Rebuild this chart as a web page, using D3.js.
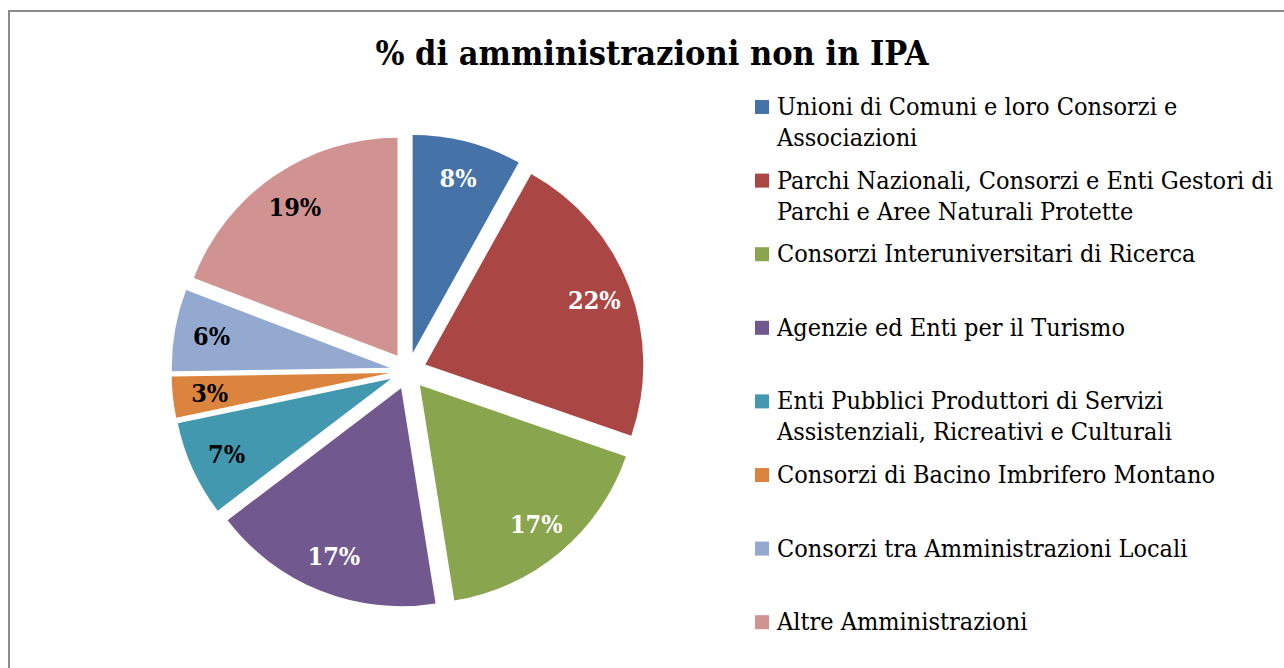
<!DOCTYPE html>
<html>
<head>
<meta charset="utf-8">
<script src="https://cdn.jsdelivr.net/npm/d3@7"></script>
<style>
  html, body { margin: 0; padding: 0; background: #fff; }
  svg { display: block; }
</style>
</head>
<body>
<svg id="chart" width="1284" height="668"></svg>
<script>
// Share of administrations not listed in IPA, by type
const categories = [
  "Unioni di Comuni e loro Consorzi e Associazioni",
  "Parchi Nazionali, Consorzi e Enti Gestori di Parchi e Aree Naturali Protette",
  "Consorzi Interuniversitari di Ricerca",
  "Agenzie ed Enti per il Turismo",
  "Enti Pubblici Produttori di Servizi Assistenziali, Ricreativi e Culturali",
  "Consorzi di Bacino Imbrifero Montano",
  "Consorzi tra Amministrazioni Locali",
  "Altre Amministrazioni"
];
const percentages = [8, 22, 17, 17, 7, 3, 6, 19];
const colors = ["#4572A7", "#AA4643", "#89A54E", "#71588F", "#4198AF", "#DB843D", "#93A9CF", "#D19392"];
const labelColors = ["#fff", "#fff", "#fff", "#fff", "#000", "#000", "#000", "#000"];
const title = "% di amministrazioni non in IPA";

const FONT = "'DejaVu Serif Condensed', 'Liberation Serif', serif";

const svg = d3.select("#chart");

// frame of the chart area
svg.append("rect")
  .attr("x", 9).attr("y", 11)
  .attr("width", 1400).attr("height", 800)
  .attr("fill", "#fff")
  .attr("stroke", "#8a8a8a").attr("stroke-width", 2);

svg.append("text")
  .attr("x", 652).attr("y", 65)
  .attr("text-anchor", "middle")
  .attr("font-family", FONT)
  .attr("font-weight", "bold")
  .attr("font-size", 34)
  .attr("fill", "#000")
  .text(title);

// exploded pie
const cx = 408, cy = 371, R = 218, explode = 18.5, labelR = 181;
const pie = d3.pie().sort(null).value(d => d);
const arcs = pie(percentages);
const arc = d3.arc().innerRadius(0).outerRadius(R);

const g = svg.append("g").attr("transform", `translate(${cx},${cy})`);

const slice = g.selectAll("g.slice")
  .data(arcs)
  .join("g")
  .attr("class", "slice")
  .attr("transform", d => {
    const a = (d.startAngle + d.endAngle) / 2;
    return `translate(${explode * Math.sin(a)},${-explode * Math.cos(a)})`;
  });

slice.append("path")
  .attr("d", arc)
  .attr("fill", (d, i) => colors[i]);

const labelArc = d3.arc().innerRadius(labelR).outerRadius(labelR);
slice.append("text")
  .attr("transform", d => `translate(${labelArc.centroid(d)})`)
  .attr("text-anchor", "middle")
  .attr("dy", "0.36em")
  .attr("font-family", FONT)
  .attr("font-weight", "bold")
  .attr("font-size", 25)
  .attr("fill", (d, i) => labelColors[i])
  .text(d => d.data + "%");

// legend
const legX = 755, legY0 = 107, legStep = 73.6, lineH = 31, maxW = 505;
const legend = svg.append("g");
categories.forEach((name, i) => {
  const y = legY0 + i * legStep;
  legend.append("rect")
    .attr("x", legX).attr("y", y - 7)
    .attr("width", 14).attr("height", 14)
    .attr("fill", colors[i]);
  const t = legend.append("text")
    .attr("x", legX + 22).attr("y", y + 8)
    .attr("font-family", FONT)
    .attr("font-size", 25)
    .attr("fill", "#000");
  // wrap words onto lines no wider than maxW
  const words = name.split(" ");
  let line = [];
  let ts = t.append("tspan").attr("x", legX + 22).attr("dy", 0);
  words.forEach(w => {
    line.push(w);
    ts.text(line.join(" "));
    if (ts.node().getComputedTextLength() > maxW && line.length > 1) {
      line.pop();
      ts.text(line.join(" "));
      line = [w];
      ts = t.append("tspan").attr("x", legX + 22).attr("dy", lineH).text(w);
    }
  });
});
</script>
</body>
</html>
